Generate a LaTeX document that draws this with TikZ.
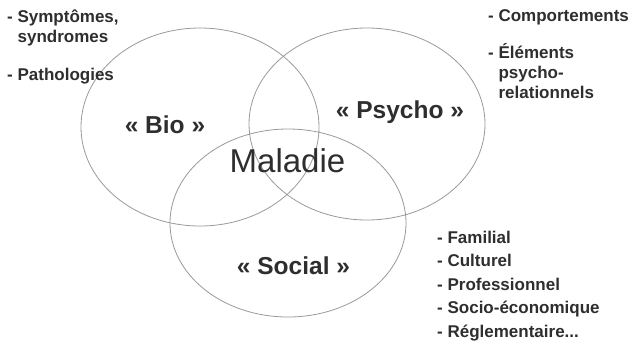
\documentclass[tikz,border=0pt]{standalone}
\usepackage{fontspec}
\setmainfont{Liberation Sans}
\definecolor{textgrey}{HTML}{2E2E2E}
\definecolor{ringgrey}{HTML}{999999}
\tikzset{
  ring/.style={draw=ringgrey, line width=0.8pt},
  pole/.style={font=\bfseries\fontsize{24.5}{29}\selectfont, text=textgrey, anchor=base, inner sep=0pt},
  listitem/.style={font=\bfseries\fontsize{17}{21}\selectfont, text=textgrey, anchor=base west, inner sep=0pt}
}

\begin{document}
\begin{tikzpicture}[x=1pt,y=-1pt]
\useasboundingbox (0,0) rectangle (634,346);
% the three spheres
\draw[ring] (200,127) ellipse [x radius=119, y radius=99];
\draw[ring] (367,124) ellipse [x radius=118, y radius=96];
\draw[ring] (288,223) ellipse [x radius=118, y radius=94];
\node[pole] (bio) at (165,133) {« Bio »};
\node[pole] (psycho) at (400,118) {« Psycho »};
\node[pole] (social) at (293.5,274) {« Social »};
\node[font=\fontsize{33}{38}\selectfont, text=textgrey, anchor=base, inner sep=0pt] (maladie) at (287.5,172) {Maladie};
% lists
\foreach \name/\x/\y/\txt in {symp/7/22/{- Symptômes,}, synd/17.4/42/syndromes, patho/7/80/- Pathologies,
    comp/488/21/- Comportements, elem/488/58/- Éléments, psy/498.4/78/psycho-, rel/498.4/98/relationnels,
    fam/437/243/- Familial, cult/437/266/- Culturel, prof/437/290/- Professionnel,
    soc/437/313/- Socio-économique}
    \node[listitem] (\name) at (\x,\y) {\txt};
\node[listitem] (regl) at (437,337) {- Réglementaire...};
\end{tikzpicture}
\end{document}
